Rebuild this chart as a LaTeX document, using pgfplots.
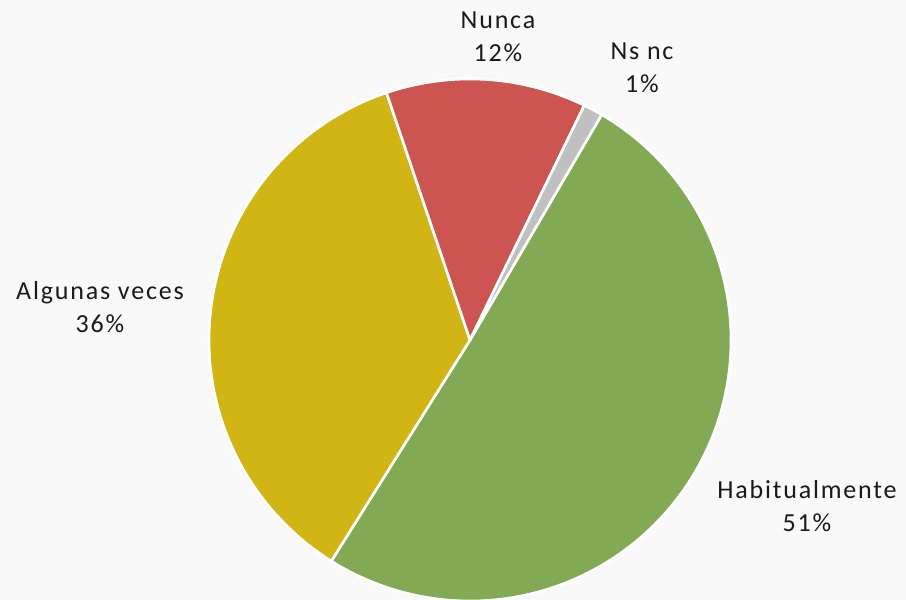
\documentclass[border=0pt]{standalone}
\usepackage{pgfplots}
\pgfplotsset{compat=1.18}
\usepackage{fontspec}
\setmainfont{Carlito}[LetterSpace=7]
\definecolor{bgc}{HTML}{F9F9F9}
\definecolor{cHab}{HTML}{82AA55}
\definecolor{cAlg}{HTML}{D0B515}
\definecolor{cNun}{HTML}{CC5451}
\definecolor{cNs}{HTML}{C0C0C0}
\definecolor{txt}{HTML}{1A1A1A}
% slice: #1 cumulative start (%), #2 value (%), #3 colour
\newcommand{\slice}[3]{%
  \addplot[fill=#3, draw=white, line width=1.3pt, line join=round,
    domain={59.7-3.6*(#1+#2)}:{59.7-3.6*(#1)}, samples=150, variable=\t]
    ({470+261*cos(\t)},{260+261*sin(\t)}) -- (axis cs:470,260) -- cycle;}
\begin{document}
\begin{tikzpicture}
\fill[bgc] (0,0) rectangle (453pt,300pt);
\begin{axis}[
  at={(0,0)}, anchor=south west,
  scale only axis, width=453pt, height=300pt,
  xmin=0, xmax=906, ymin=0, ymax=600,
  hide axis, clip=true,
]
\slice{0}{50.5}{cHab}
\slice{50.5}{35.9}{cAlg}
\slice{86.4}{12.4}{cNun}
\slice{98.8}{1.2}{cNs}
\begin{scope}[every node/.style={align=center, text=txt, font=\fontsize{13}{16.5}\selectfont}]
\node at (axis cs:498,563) {Nunca\\12\%};
\node at (axis cs:642,532) {Ns nc\\1\%};
\node at (axis cs:100,293) {Algunas veces\\36\%};
\node at (axis cs:807,94) {Habitualmente\\51\%};
\end{scope}
\end{axis}
\end{tikzpicture}
\end{document}
